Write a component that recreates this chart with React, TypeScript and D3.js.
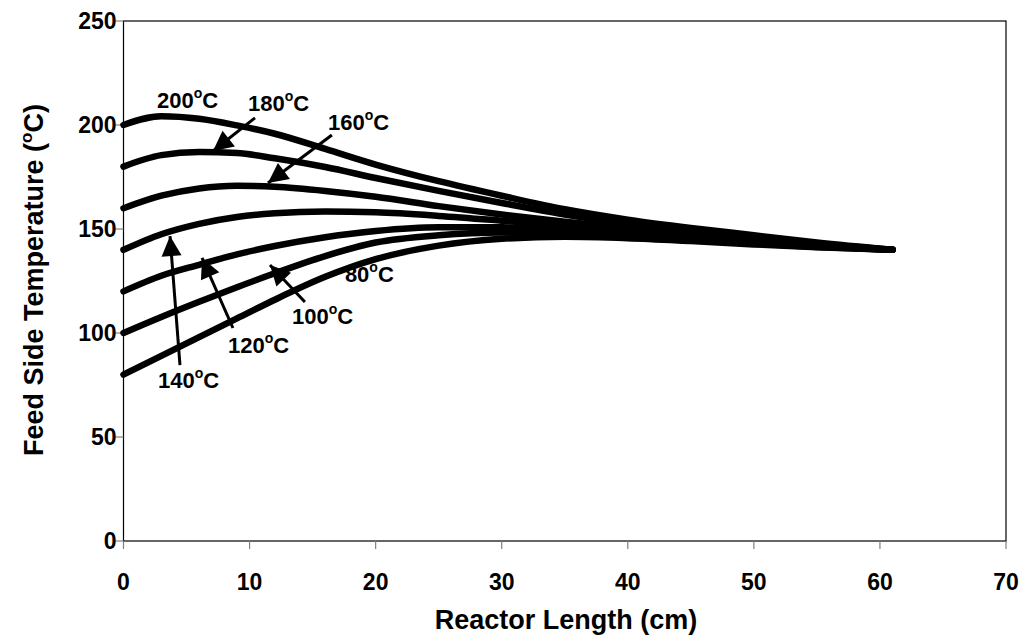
import React from "react";
import * as d3 from "d3";

const xs = [0, 3, 6, 9, 12, 16, 20, 25, 30, 35, 40, 45, 50, 55, 61];
const s200 = [200, 204.2, 203, 199.8, 195.8, 188.5, 181, 173, 166, 159.5, 154.5, 150.5, 147, 143.5, 140];
const s180 = [180, 185.5, 187, 186.5, 184, 179.8, 174.5, 168.3, 162.5, 157, 152.5, 148.8, 145.6, 142.8, 140];
const s160 = [160, 166, 169.5, 170.8, 170.3, 168.3, 165.5, 161, 157, 153.5, 150.5, 147.6, 145, 142.4, 140];
const s140 = [140, 147.5, 152.5, 155.8, 157.6, 158.4, 158, 156.3, 154, 151.5, 149, 146.6, 144.2, 142, 140];
const s120 = [120, 127.5, 132.8, 137.8, 141.8, 146, 149, 150.8, 150.8, 149.5, 147.7, 145.6, 143.5, 141.7, 140];
const s100 = [100, 107.7, 115, 122, 128.7, 137, 143.5, 147, 148.3, 148.1, 146.7, 144.9, 143, 141.4, 140];
const s80 = [80, 89, 98, 107, 116, 127, 135.5, 142, 145.3, 146.3, 145.6, 144.2, 142.6, 141.2, 140];
const series = [s200, s180, s160, s140, s120, s100, s80];

const xTicks = [0, 10, 20, 30, 40, 50, 60, 70];
const yTicks = [0, 50, 100, 150, 200, 250];

const labelTexts = ["200", "180", "160", "140", "120", "100", "80"];
const labelX = [2.66, 9.87, 16.22, 2.74, 8.29, 13.36, 17.56];
const labelY = [208.2, 206.7, 197.6, 73.6, 90.4, 104.3, 124.5];
const arrowFrom: (number[] | null)[] = [null, [10.43, 203.4], [16.53, 195.2], [4.48, 84.6], [8.68, 102.4], [14.39, 114.9], null];
const arrowTo: (number[] | null)[] = [null, [7.1, 187.5], [11.46, 172.1], [3.69, 146.6], [6.23, 136.1], [11.62, 132.7], null];

const FONT = "'Liberation Sans', Arial, sans-serif";

export default function App() {
  const x = d3.scaleLinear().domain([0, 70]).range([123.5, 1006]);
  const y = d3.scaleLinear().domain([0, 250]).range([541, 21]);
  const line = d3
    .line<number>()
    .x((_, i) => x(xs[i]))
    .y((d) => y(d))
    .curve(d3.curveMonotoneX);

  const arrowHead = (fx: number, fy: number, tx: number, ty: number) => {
    const ang = Math.atan2(ty - fy, tx - fx);
    const L = 20, W = 10;
    const bx = tx - L * Math.cos(ang), by = ty - L * Math.sin(ang);
    const px = -Math.sin(ang) * W, py = Math.cos(ang) * W;
    return `M${tx},${ty}L${bx + px},${by + py}L${bx - px},${by - py}Z`;
  };

  return (
    <svg width={1024} height={641} style={{ position: "absolute", left: 0, top: 0, background: "#fff" }}>
      <rect x={0} y={0} width={1024} height={641} fill="#fff" />
      <rect x={x(0)} y={y(250)} width={x(70) - x(0)} height={y(0) - y(250)} fill="none" stroke="#000" strokeWidth={1.2} />
      {yTicks.map((t) => (
        <g key={"y" + t}>
          <line x1={x(0) - 8} x2={x(0)} y1={y(t)} y2={y(t)} stroke="#808080" strokeWidth={1.2} />
          <text x={x(0) - 7} y={y(t)} dy="0.36em" textAnchor="end" fontFamily={FONT} fontWeight="bold" fontSize={23}>
            {t}
          </text>
        </g>
      ))}
      {xTicks.map((t) => (
        <g key={"x" + t}>
          <line x1={x(t)} x2={x(t)} y1={y(0)} y2={y(0) + 8} stroke="#808080" strokeWidth={1.2} />
          <text x={x(t)} y={590} textAnchor="middle" fontFamily={FONT} fontWeight="bold" fontSize={23}>
            {t}
          </text>
        </g>
      ))}
      <text x={566} y={629} textAnchor="middle" fontFamily={FONT} fontWeight="bold" fontSize={27}>
        Reactor Length (cm)
      </text>
      <text
        transform={`translate(43,${280}) rotate(-90)`}
        textAnchor="middle"
        fontFamily={FONT}
        fontWeight="bold"
        fontSize={27}
      >
        Feed Side Temperature (
        <tspan fontSize={17} dy={-11}>o</tspan>
        <tspan dy={11}>C)</tspan>
      </text>
      {series.map((s, i) => (
        <path key={i} d={line(s) || ""} fill="none" stroke="#000" strokeWidth={6.5} strokeLinecap="round" strokeLinejoin="round" />
      ))}
      {labelTexts.map((t, i) => {
        const f = arrowFrom[i], to = arrowTo[i];
        return (
          <g key={"l" + i}>
            {f && to && (
              <>
                <line x1={x(f[0])} y1={y(f[1])} x2={x(to[0])} y2={y(to[1])} stroke="#000" strokeWidth={3} />
                <path d={arrowHead(x(f[0]), y(f[1]), x(to[0]), y(to[1]))} fill="#000" />
              </>
            )}
            <text x={x(labelX[i])} y={y(labelY[i])} fontFamily={FONT} fontWeight="bold" fontSize={22}>
              {t}
              <tspan fontSize={14} dy={-10}>o</tspan>
              <tspan dy={10}>C</tspan>
            </text>
          </g>
        );
      })}
    </svg>
  );
}
